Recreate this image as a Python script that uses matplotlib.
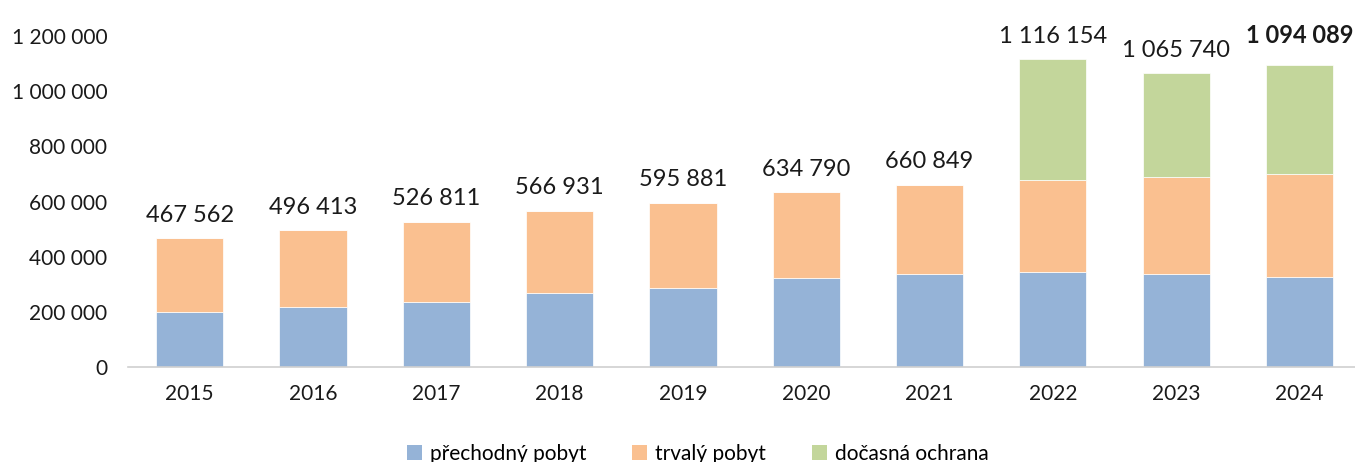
import matplotlib
matplotlib.use("Agg")
import matplotlib.pyplot as plt
from matplotlib.ticker import FuncFormatter
from matplotlib.patches import Patch

plt.rcParams['font.family'] = ['Lato', 'DejaVu Sans']

years = ["2015", "2016", "2017", "2018", "2019", "2020", "2021", "2022", "2023", "2024"]
prechodny = [200000, 219000, 237000, 269000, 287000, 323000, 337000, 346000, 336000, 326000]
trvaly = [267562, 277413, 289811, 297931, 308881, 311790, 323849, 333000, 352000, 375000]
docasna = [0, 0, 0, 0, 0, 0, 0, 437154, 377740, 393089]
totals = [467562, 496413, 526811, 566931, 595881, 634790, 660849, 1116154, 1065740, 1094089]
series_names = ["přechodný pobyt", "trvalý pobyt", "dočasná ochrana"]
colors = ["#95B3D7", "#FAC090", "#C3D69B"]

def fmt(v):
    return f"{int(v):,}".replace(",", " ")

fig = plt.figure(figsize=(13.55, 4.62), dpi=100)
ax = fig.add_axes([0.0945, 0.2056, 0.9055, 0.716])

x = list(range(len(years)))
w = 0.545
ax.bar(x, prechodny, w, color=colors[0], edgecolor='white', linewidth=0.5)
ax.bar(x, trvaly, w, bottom=prechodny, color=colors[1], edgecolor='white', linewidth=0.5)
bottom2 = [a + b for a, b in zip(prechodny, trvaly)]
ax.bar(x, docasna, w, bottom=bottom2, color=colors[2], edgecolor='white', linewidth=0.5)

for i, t in enumerate(totals):
    last = i == len(totals) - 1
    ax.annotate(fmt(t), (i, t), xytext=(0, 9 if not last else 13), textcoords='offset points',
                ha='center', va='bottom', fontsize=17,
                fontweight='bold' if last else 'normal', color='#1a1a1a',
                annotation_clip=False)

ax.set_xlim(-0.5, 9.45)
ax.set_ylim(0, 1200000)
ax.set_yticks(range(0, 1200001, 200000))
ax.yaxis.set_major_formatter(FuncFormatter(lambda v, p: fmt(v)))
ax.set_xticks(x)
ax.set_xticklabels(years)
ax.tick_params(axis='both', length=0, labelsize=15, colors='#1a1a1a')
ax.tick_params(axis='y', pad=15)
ax.tick_params(axis='x', pad=12)
for s in ['top', 'right', 'left']:
    ax.spines[s].set_visible(False)
ax.spines['bottom'].set_color('#d0d0d0')
ax.spines['bottom'].set_linewidth(1.2)

handles = [Patch(facecolor=c, label=n) for c, n in zip(colors, series_names)]
fig.legend(handles=handles, loc='center', bbox_to_anchor=(0.515, 0.018), ncol=3,
           frameon=False, fontsize=15, handlelength=0.7, handleheight=0.7,
           columnspacing=2.2, handletextpad=0.4)

fig.savefig("out.png", dpi=100)
